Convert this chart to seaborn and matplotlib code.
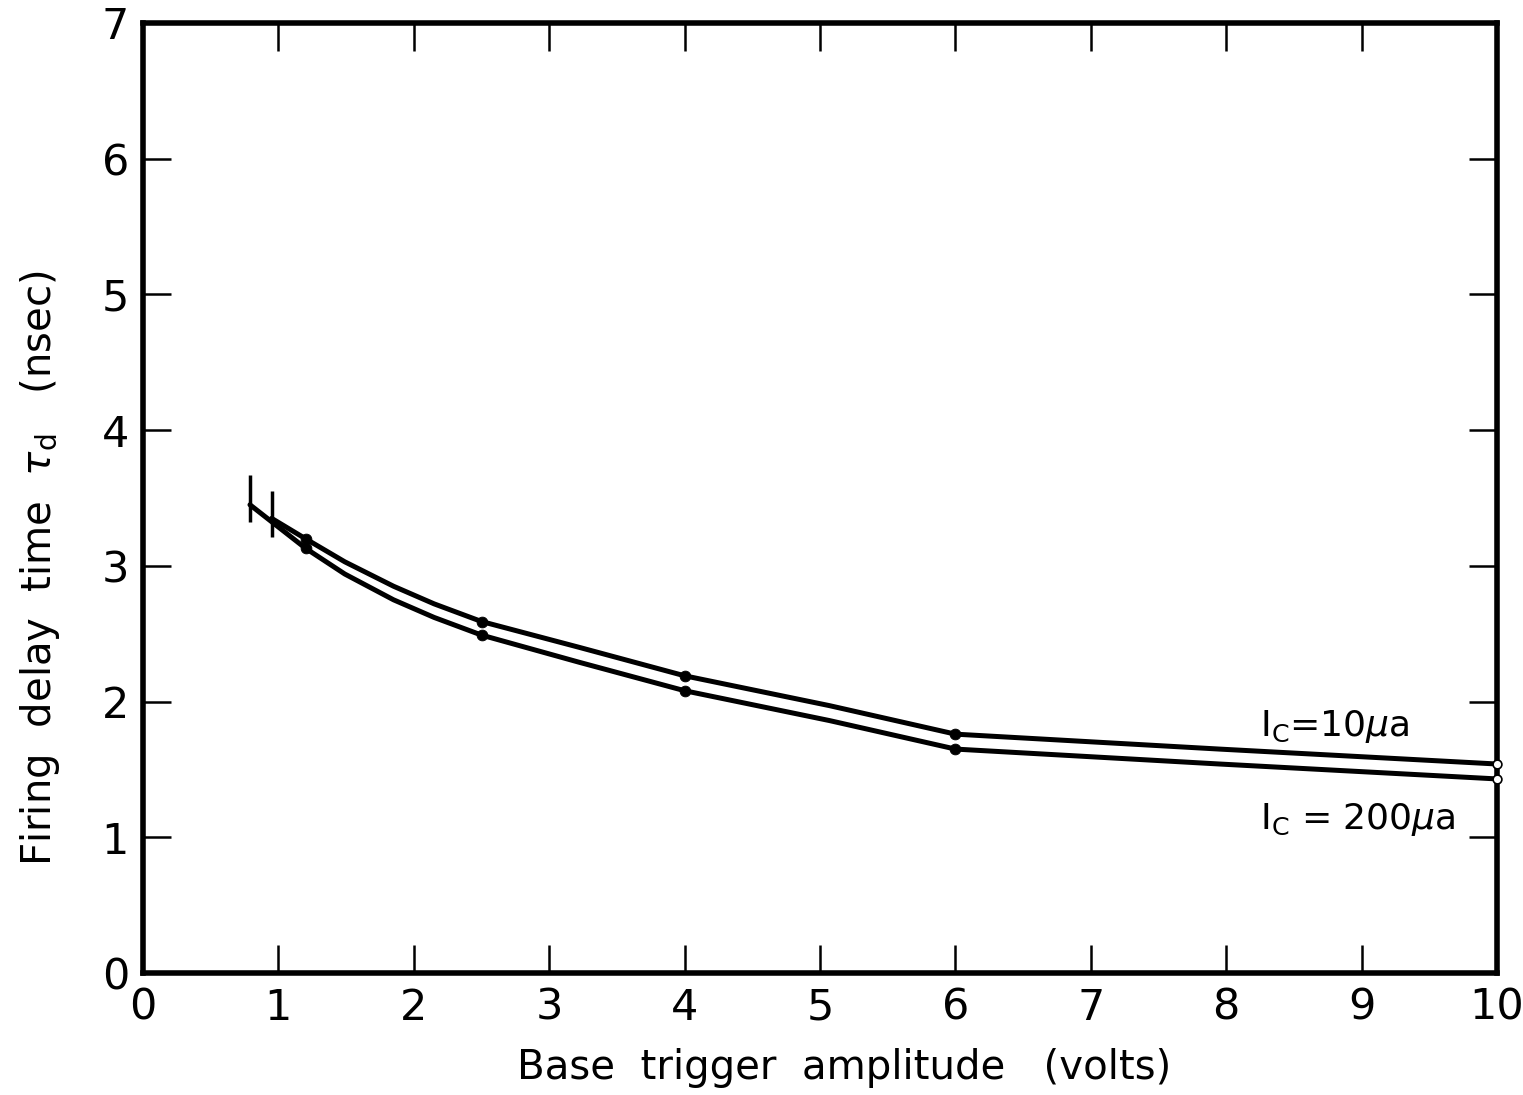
import matplotlib
matplotlib.use("Agg")
import matplotlib.pyplot as plt
import seaborn as sns
import pandas as pd

# curve traces (volts, nsec)
x_10 = [0.95, 1.2, 1.49, 1.85, 2.15, 2.5, 3.22, 4.0, 5.07, 6.0, 7.95, 10.0]
y_10 = [3.35, 3.20, 3.03, 2.85, 2.72, 2.59, 2.40, 2.19, 1.97, 1.76, 1.65, 1.54]
x_200 = [0.79, 1.2, 1.49, 1.85, 2.15, 2.5, 3.22, 4.0, 5.07, 6.0, 7.95, 10.0]
y_200 = [3.45, 3.13, 2.94, 2.75, 2.62, 2.49, 2.29, 2.08, 1.86, 1.65, 1.54, 1.43]

# measured points (filled) and end points (open)
pts_x = [1.2, 2.5, 4.0, 6.0]
pts_10 = [3.20, 2.59, 2.19, 1.76]
pts_200 = [3.13, 2.49, 2.08, 1.65]
end_x = [10.0, 10.0]
end_y = [1.54, 1.43]

# vertical bars at the start of each curve
bar_x = [0.79, 0.95]
bar_lo = [3.32, 3.21]
bar_hi = [3.67, 3.55]

sns.set_style("ticks")
plt.rcParams['font.family'] = ['DejaVu Sans']
plt.rcParams['text.color'] = 'black'
plt.rcParams['axes.labelcolor'] = 'black'
plt.rcParams['xtick.color'] = 'black'
plt.rcParams['ytick.color'] = 'black'
plt.rcParams['axes.edgecolor'] = 'black'

fig = plt.figure(figsize=(15.23, 10.95), dpi=100)
ax = fig.add_axes([0.0939, 0.1114, 0.8891, 0.8676])

df = pd.concat([
    pd.DataFrame({"x": x_10, "y": y_10, "s": "10"}),
    pd.DataFrame({"x": x_200, "y": y_200, "s": "200"}),
])
sns.lineplot(data=df, x="x", y="y", units="s", estimator=None, sort=False,
             color="black", linewidth=3.6, ax=ax)
sns.scatterplot(x=pts_x + pts_x, y=pts_10 + pts_200, color="black", s=60,
                edgecolor="black", zorder=5, ax=ax)
sns.scatterplot(x=end_x, y=end_y, facecolor="white", edgecolor="black",
                s=40, linewidth=1.2, zorder=5, clip_on=False, ax=ax)
ax.vlines(bar_x, bar_lo, bar_hi, color="black", linewidth=2.5)

ax.set_xlim(0, 10)
ax.set_ylim(0, 7)
ax.set_xticks(range(0, 11))
ax.set_yticks(range(0, 8))
ax.set_xticklabels([str(i) for i in range(11)])
ax.set_yticklabels([str(i) for i in range(8)])
ax.tick_params(direction="in", length=20, width=1.8, top=True, right=True,
               labelsize=31, pad=10)
for sp in ax.spines.values():
    sp.set_linewidth(4)
    sp.set_visible(True)

ax.set_xlabel("Base  trigger  amplitude   (volts)", fontsize=29, va="center")
ax.set_ylabel(r"Firing  delay  time  $\tau_{\rm d}$   (nsec)", fontsize=29,
              va="center")
ax.xaxis.set_label_coords(0.518, -0.1)
ax.yaxis.set_label_coords(-0.076, 0.426)

ax.text(8.25, 1.82, r"I$_{\rm C}$=10$\mu$a", fontsize=26, va="center", ha="left")
ax.text(8.25, 1.13, r"I$_{\rm C}$ = 200$\mu$a", fontsize=26, va="center", ha="left")

fig.savefig("out.png", dpi=100, facecolor="white")
